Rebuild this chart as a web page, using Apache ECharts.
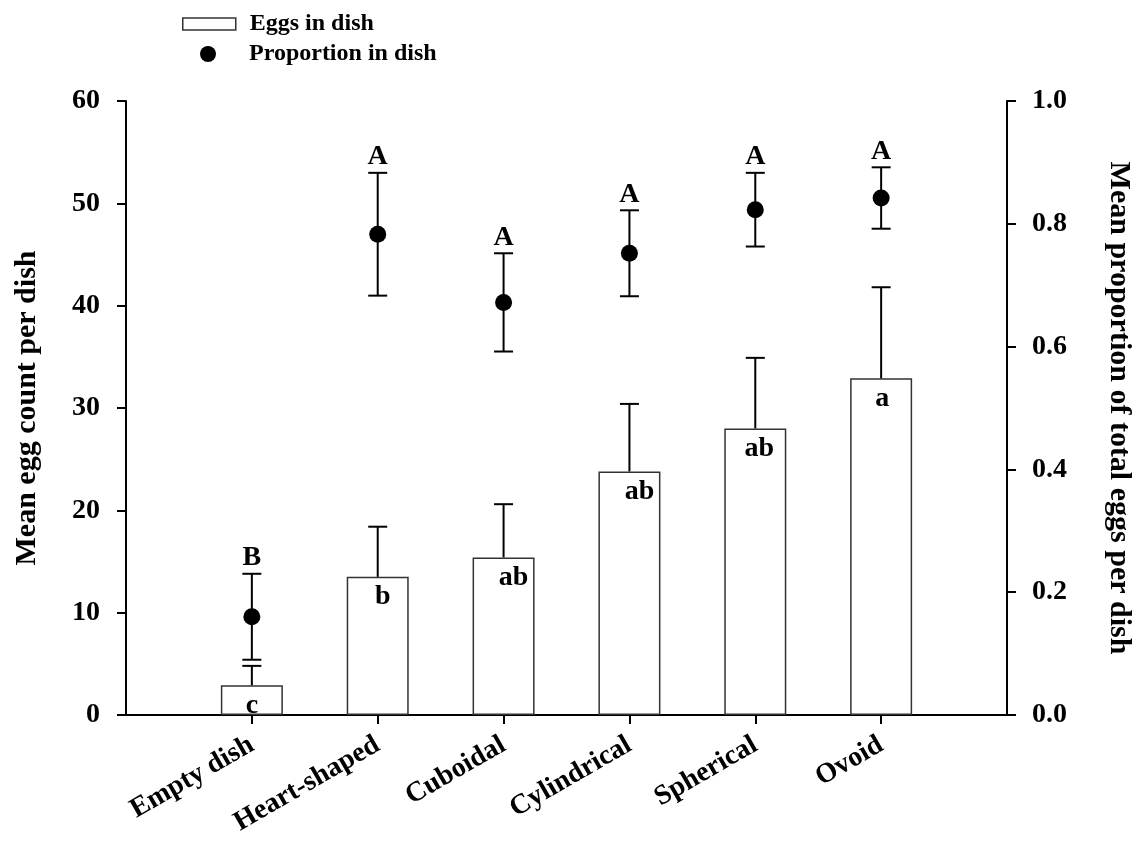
<!DOCTYPE html>
<html>
<head>
<meta charset="utf-8">
<script src="https://cdn.jsdelivr.net/npm/echarts@6/dist/echarts.min.js"></script>
<style>
html,body{margin:0;padding:0;background:#fff;}
#chart{width:1142px;height:842px;}
</style>
</head>
<body>
<div id="chart"></div>
<script>
var categories = ['Empty dish', 'Heart-shaped', 'Cuboidal', 'Cylindrical', 'Spherical', 'Ovoid'];
var eggMean = [2.9, 13.5, 15.4, 23.8, 28.0, 32.9];
var eggSE = [1.9, 4.9, 5.2, 6.6, 6.9, 8.9];
var eggLetters = ['c', 'b', 'ab', 'ab', 'ab', 'a'];
var propMean = [0.16, 0.783, 0.672, 0.752, 0.823, 0.842];
var propSE = [0.07, 0.10, 0.08, 0.07, 0.06, 0.05];
var propLetters = ['B', 'A', 'A', 'A', 'A', 'A'];
var leftTicks = [0, 60, 10];
var rightTicks = [0, 1, 0.2];

// styling only
var FONT = "'Liberation Serif', 'Times New Roman', serif";
var LETTER_NUDGE = [0, 5, 10, 10, 4, 1];

var xData = [''].concat(categories).concat(['']);
var barData = ['-'].concat(eggMean.map(function (v, i) {
  return { value: v, label: { offset: [LETTER_NUDGE[i], 0] } };
})).concat(['-']);
var eggErr = eggMean.map(function (v, i) { return [i + 1, v, v + eggSE[i]]; });
var propPts = propMean.map(function (v, i) { return [i + 1, v]; });
var propErr = propMean.map(function (v, i) { return [i + 1, v - propSE[i], v + propSE[i]]; });

function errRender(bothCaps, letters) {
  return function (params, api) {
    var x = api.value(0);
    var lo = api.coord([x, api.value(1)]);
    var hi = api.coord([x, api.value(2)]);
    var half = 9.5;
    var st = { stroke: '#000', lineWidth: 2 };
    var ch = [
      { type: 'line', shape: { x1: lo[0], y1: lo[1], x2: hi[0], y2: hi[1] }, style: st },
      { type: 'line', shape: { x1: hi[0] - half, y1: hi[1], x2: hi[0] + half, y2: hi[1] }, style: st }
    ];
    if (bothCaps) {
      ch.push({ type: 'line', shape: { x1: lo[0] - half, y1: lo[1], x2: lo[0] + half, y2: lo[1] }, style: st });
    }
    if (letters) {
      ch.push({ type: 'text', style: { text: letters[params.dataIndex], x: hi[0], y: hi[1] - 2,
        align: 'center', verticalAlign: 'bottom', fontFamily: FONT, fontWeight: 'bold', fontSize: 28, fill: '#000' } });
    }
    return { type: 'group', children: ch };
  };
}

var chart = echarts.init(document.getElementById('chart'), null, { renderer: 'canvas' });
chart.setOption({
  animation: false,
  backgroundColor: '#fff',
  textStyle: { fontFamily: FONT, fontWeight: 'bold', color: '#000' },
  grid: { left: 126, right: 134, top: 101, bottom: 127 },
  legend: [
    { data: [{ name: 'Eggs in dish', icon: 'rect' }], left: 182, top: 12, padding: 0,
      itemWidth: 53, itemHeight: 12, orient: 'vertical',
      itemStyle: { color: '#fff', borderColor: '#333', borderWidth: 1.5 },
      textStyle: { fontFamily: FONT, fontWeight: 'bold', fontSize: 24, color: '#000', padding: [0, 0, 0, 9] } },
    { data: [{ name: 'Proportion in dish', icon: 'circle' }], left: 200, top: 42, padding: 0,
      itemWidth: 16, itemHeight: 16, orient: 'vertical',
      itemStyle: { color: '#000', opacity: 1 },
      textStyle: { fontFamily: FONT, fontWeight: 'bold', fontSize: 24, color: '#000', padding: [0, 0, 0, 28] } }
  ],
  xAxis: {
    type: 'category', data: xData, boundaryGap: false,
    axisLine: { lineStyle: { color: '#000', width: 2 } },
    axisTick: { length: 9, lineStyle: { color: '#000', width: 2 }, interval: function (i) { return i > 0 && i < xData.length - 1; } },
    axisLabel: { interval: 0, rotate: 30, margin: 28, fontFamily: FONT, fontWeight: 'bold', fontSize: 28, color: '#000' },
    splitLine: { show: false }
  },
  yAxis: [
    { type: 'value', min: leftTicks[0], max: leftTicks[1], interval: leftTicks[2], position: 'left',
      name: 'Mean egg count per dish', nameLocation: 'middle', nameGap: 84, nameRotate: 90,
      nameTextStyle: { fontFamily: FONT, fontWeight: 'bold', fontSize: 30, color: '#000' },
      axisLine: { show: true, lineStyle: { color: '#000', width: 2 } },
      axisTick: { show: true, length: 9, lineStyle: { color: '#000', width: 2 } },
      axisLabel: { margin: 26, fontFamily: FONT, fontWeight: 'bold', fontSize: 28, color: '#000' },
      splitLine: { show: false } },
    { type: 'value', min: rightTicks[0], max: rightTicks[1], interval: rightTicks[2], position: 'right',
      name: 'Mean proportion of total eggs per dish', nameLocation: 'middle', nameGap: 97, nameRotate: -90,
      nameTextStyle: { fontFamily: FONT, fontWeight: 'bold', fontSize: 30, color: '#000' },
      axisLine: { show: true, lineStyle: { color: '#000', width: 2 } },
      axisTick: { show: true, length: 9, lineStyle: { color: '#000', width: 2 } },
      axisLabel: { margin: 25, fontFamily: FONT, fontWeight: 'bold', fontSize: 28, color: '#000',
        formatter: function (v) { return v.toFixed(1); } },
      splitLine: { show: false } }
  ],
  series: [
    { name: 'Eggs in dish', type: 'bar', data: barData, barWidth: 62, yAxisIndex: 0, z: 2,
      itemStyle: { color: '#fff', borderColor: '#333', borderWidth: 1.5 },
      label: { show: true, position: 'insideTop', distance: 6,
        fontFamily: FONT, fontWeight: 'bold', fontSize: 28, color: '#000',
        formatter: function (p) { return eggLetters[p.dataIndex - 1] || ''; } } },
    { name: 'eggErr', type: 'custom', yAxisIndex: 0, z: 3, data: eggErr,
      renderItem: errRender(false, null) },
    { name: 'propErr', type: 'custom', yAxisIndex: 1, z: 4, data: propErr,
      renderItem: errRender(true, propLetters) },
    { name: 'Proportion in dish', type: 'scatter', yAxisIndex: 1, z: 5, data: propPts,
      symbol: 'circle', symbolSize: 17, itemStyle: { color: '#000', opacity: 1 } }
  ]
});
</script>
</body>
</html>
